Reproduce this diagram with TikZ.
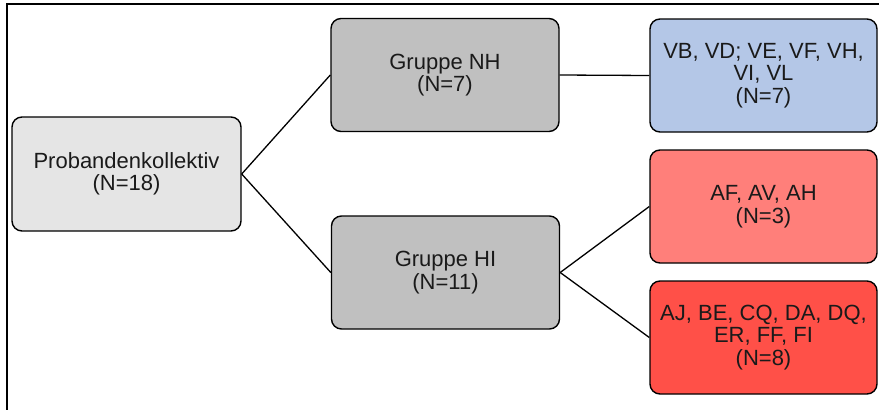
\documentclass[tikz,border=0pt]{standalone}
\usepackage{fontspec}
\setmainfont{Liberation Sans}
\definecolor{rootfill}{HTML}{E5E5E5}
\definecolor{groupfill}{HTML}{C0C0C0}
\definecolor{nhfill}{HTML}{B4C7E7}
\definecolor{hilight}{HTML}{FF7F7A}
\definecolor{histrong}{HTML}{FF5048}
\definecolor{textcol}{HTML}{1A1A1A}
\begin{document}
\begin{tikzpicture}[x=1pt,y=-1pt,
  box/.style={draw=black, line width=1.4pt, rounded corners=10pt,
    minimum width=228pt, minimum height=113pt, align=center,
    inner sep=0pt, text=textcol,
    font=\fontsize{22}{22.5}\selectfont},
  link/.style={draw=black, line width=1.3pt}]
  \useasboundingbox (0,0) rectangle (879,410);
  % outer frame, open to the right and bottom
  \draw[line width=2.4pt] (879,4) -- (7,4) -- (7,410);

  % boxes
  \node[box, fill=rootfill, minimum width=229pt, minimum height=114pt] (root) at (126.5,174) {Probandenkollektiv\\(N=18)};
  \node[box, fill=groupfill] (nh) at (445,75) {Gruppe NH\\(N=7)};
  \node[box, fill=groupfill] (hi) at (445.5,272.5) {Gruppe HI\\(N=11)};
  \node[box, fill=nhfill, minimum width=227pt] (nhlist) at (763.5,75.5) {VB, VD; VE, VF, VH,\\VI, VL\\(N=7)};
  \node[box, fill=hilight, minimum width=227pt] (hia) at (763.5,206.5) {AF, AV, AH\\(N=3)};
  \node[box, fill=histrong, minimum width=227pt] (hib) at (763.5,337.5) {AJ, BE, CQ, DA, DQ,\\ER, FF, FI\\(N=8)};

  % connectors
  \draw[link] (root.east) -- (nh.west);
  \draw[link] (root.east) -- (hi.west);
  \draw[link] (nh.east) -- (nhlist.west);
  \draw[link] (hi.east) -- (hia.west);
  \draw[link] (hi.east) -- (hib.west);
\end{tikzpicture}
\end{document}
